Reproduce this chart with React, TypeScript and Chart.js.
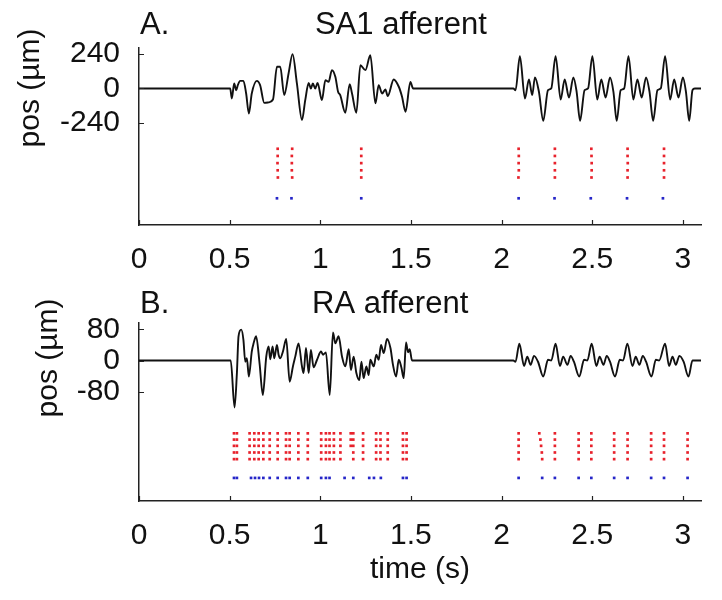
import React, { useEffect, useRef } from 'react';
import { Chart, registerables } from 'chart.js';

Chart.register(...registerables);

const FONT = "'Liberation Sans', Arial, Helvetica, sans-serif";

// ---------- shared axis ticks ----------
const xTicks = [0, 0.5, 1, 1.5, 2, 2.5, 3];
const yTicksA = [-240, 0, 240];
const yTicksB = [-80, 0, 80];

// ---------- Panel A: SA1 afferent, probe position (µm) ----------
const timeA = [
  0, 0.503, 0.512, 0.525, 0.536, 0.545, 0.558, 0.576, 0.591, 0.606, 0.622, 0.65, 0.668, 0.691, 0.715, 0.739,
  0.761, 0.779, 0.801, 0.825, 0.847, 0.871, 0.899, 0.917, 0.936, 0.948, 0.959, 0.972, 0.985, 1.009, 1.028,
  1.046, 1.064, 1.083, 1.098, 1.11, 1.138, 1.162, 1.175, 1.199, 1.221, 1.249, 1.276, 1.304, 1.322, 1.341,
  1.359, 1.372, 1.405, 1.433, 1.451, 1.47, 1.497, 1.512,
  2.065, 2.077, 2.101, 2.129, 2.151, 2.169, 2.184, 2.206, 2.23, 2.256, 2.274,
  2.298, 2.326, 2.348, 2.372, 2.396, 2.414, 2.433, 2.458, 2.477,
  2.501, 2.528, 2.55, 2.574, 2.598, 2.617, 2.635, 2.657, 2.676,
  2.7, 2.727, 2.749, 2.773, 2.797, 2.816, 2.836, 2.86, 2.878,
  2.902, 2.93, 2.952, 2.976, 3.0, 3.017, 3.035, 3.053, 3.066, 3.1,
];
const posA = [
  0, 0, -70, 35, -12, 23, 53, 53, -35, -174, -35, 53, 23, -100, -97, -77,
  151, 151, -46, 104, 239, 35, -220, -81, 39, 0, 35, 0, 39, -81, 58,
  46, 128, 81, -23, -46, -169, 30, -35, -169, 162, 128, 232, -104, 23, -35,
  -7, -53, 63, 12, -58, -162, 46, 0,
  0, -12, 225, -70, 63, -46, 77, -23, -225, -12, 0,
  225, -77, 63, -63, 77, -23, -225, -12, 0,
  225, -77, 63, -63, 77, -23, -225, -12, 0,
  225, -77, 63, -63, 77, -23, -225, -12, 0,
  225, -77, 63, -63, 77, -23, -225, -12, 0, 0,
];

// recorded spikes (5 trials) and model spikes
const spikesA1 = [0.765, 0.845, 1.226, 2.094, 2.294, 2.495, 2.695, 2.896];
const spikesA2 = [0.765, 0.843, 1.226, 2.095, 2.294, 2.496, 2.695, 2.896];
const spikesA3 = [0.764, 0.843, 1.226, 2.094, 2.294, 2.497, 2.696, 2.896];
const spikesA4 = [0.765, 0.843, 1.226, 2.095, 2.294, 2.497, 2.695, 2.896];
const spikesA5 = [0.766, 0.845, 1.226, 2.093, 2.294, 2.496, 2.695, 2.896];
const modelA = [0.761, 0.841, 1.226, 2.094, 2.292, 2.492, 2.692, 2.89];
const trialRowsA = [-420, -470, -520, -570, -620];
const modelRowA = -765;

// ---------- Panel B: RA afferent ----------
const timeB = [
  0, 0.506, 0.527, 0.54, 0.549, 0.564, 0.576, 0.586, 0.595, 0.606, 0.622, 0.632, 0.646, 0.665, 0.683, 0.702,
  0.715, 0.724, 0.737, 0.746, 0.761, 0.77, 0.779, 0.794, 0.812, 0.831, 0.849, 0.862, 0.88, 0.899, 0.908,
  0.921, 0.936, 0.948, 0.963, 0.982, 1.004, 1.015, 1.031, 1.052, 1.07, 1.083, 1.101, 1.12, 1.138, 1.157,
  1.169, 1.184, 1.199, 1.215, 1.227, 1.239, 1.254, 1.267, 1.276, 1.295, 1.309, 1.322, 1.335, 1.35, 1.368,
  1.387, 1.401, 1.418, 1.433, 1.447, 1.46, 1.473, 1.484, 1.493, 1.506,
  2.065, 2.077, 2.098, 2.124, 2.142, 2.16, 2.179, 2.201, 2.23, 2.256, 2.274,
  2.298, 2.322, 2.34, 2.363, 2.381, 2.399, 2.429, 2.455, 2.473,
  2.497, 2.523, 2.541, 2.562, 2.58, 2.598, 2.626, 2.652, 2.67,
  2.694, 2.722, 2.74, 2.76, 2.779, 2.797, 2.827, 2.851, 2.869,
  2.902, 2.924, 2.943, 2.961, 2.981, 3.004, 3.031, 3.053, 3.1,
];
const posB = [
  0, 0, -120, -32, 62, 79, 53, -3, 6, -41, 23, 44, 62, -7, -88, 10,
  36, 3, 36, 6, 40, 15, 6, 23, 55, -54, -15, 10, 44, -15, -32,
  32, -32, 27, -17, 2, 23, 15, 21, -88, 72, 44, 62, 10, -15, 29,
  -24, 10, -32, -50, -3, -45, -15, -37, 2, -15, 15, 2, 40, 19, 55,
  32, -11, -41, 2, -17, -45, 46, 21, 29, 0,
  0, -3, 43, -14, 10, -11, 12, -3, -41, 2, 0,
  43, -14, 10, -11, 12, -3, -41, 2, 0,
  43, -14, 10, -11, 12, -3, -41, 2, 0,
  43, -14, 10, -11, 12, -3, -41, 2, 0,
  43, -14, 10, -11, 12, -3, -41, 0, 0,
];

const spikesB1 = [0.524, 0.54, 0.61, 0.636, 0.66, 0.686, 0.721, 0.765, 0.811, 0.831, 0.879, 0.931, 1.005, 1.031, 1.051, 1.075, 1.111, 1.168, 1.182, 1.236, 1.308, 1.332, 1.372, 1.456, 1.476, 2.094, 2.208, 2.294, 2.425, 2.495, 2.621, 2.695, 2.825, 2.896, 3.026];
const spikesB2 = [0.524, 0.54, 0.61, 0.636, 0.66, 0.686, 0.721, 0.765, 0.811, 0.831, 0.879, 0.931, 1.005, 1.031, 1.051, 1.075, 1.111, 1.168, 1.182, 1.236, 1.308, 1.332, 1.372, 1.456, 1.476, 2.094, 2.214, 2.294, 2.425, 2.495, 2.621, 2.695, 2.825, 2.896, 3.026];
const spikesB3 = [0.524, 0.54, 0.61, 0.636, 0.66, 0.686, 0.721, 0.765, 0.811, 0.831, 0.879, 0.931, 1.005, 1.031, 1.051, 1.075, 1.111, 1.168, 1.182, 1.236, 1.308, 1.332, 1.372, 1.456, 1.476, 2.094, 2.218, 2.294, 2.425, 2.495, 2.621, 2.695, 2.825, 2.896, 3.026];
const spikesB4 = [0.524, 0.54, 0.61, 0.636, 0.66, 0.686, 0.721, 0.765, 0.811, 0.831, 0.879, 0.931, 1.005, 1.031, 1.051, 1.075, 1.111, 1.182, 1.236, 1.308, 1.332, 1.372, 1.456, 1.476, 2.094, 2.222, 2.294, 2.425, 2.495, 2.621, 2.695, 2.825, 2.896, 3.026];
const spikesB5 = [0.524, 0.54, 0.61, 0.636, 0.66, 0.686, 0.721, 0.765, 0.811, 0.831, 0.879, 0.931, 1.005, 1.031, 1.051, 1.075, 1.111, 1.182, 1.236, 1.308, 1.332, 1.372, 1.456, 1.476, 2.094, 2.224, 2.294, 2.425, 2.495, 2.621, 2.695, 2.825, 2.896, 3.026];
const modelB = [0.524, 0.54, 0.618, 0.64, 0.662, 0.686, 0.721, 0.765, 0.811, 0.831, 0.879, 0.931, 1.005, 1.031, 1.051, 1.134, 1.182, 1.27, 1.296, 1.334, 1.456, 1.476, 2.094, 2.224, 2.294, 2.425, 2.495, 2.621, 2.695, 2.825, 2.896, 3.026];
const trialRowsB = [-186, -202, -218, -235, -252];
const modelRowB = -300;

type PanelProps = {
  times: number[];
  pos: number[];
  trials: number[][];
  trialRows: number[];
  model: number[];
  modelRow: number;
  yMin: number;
  yMax: number;
  yTicks: number[];
  width: number;
  height: number;
  padTop: number;
  xAxisH: number;
  letter: string;
  title: string;
  titleX: number;
  titleBase: number;
  yLabelC: [number, number];
  xLabel?: { text: string; x: number; y: number };
  top: number;
};

function Panel(p: PanelProps) {
  const ref = useRef<HTMLCanvasElement | null>(null);
  useEffect(() => {
    if (!ref.current) return;
    const decor = {
      id: 'decor',
      afterDraw(chart: any) {
        const ctx = chart.ctx as CanvasRenderingContext2D;
        const { left, bottom } = chart.chartArea;
        const xs = chart.scales.x;
        const ys = chart.scales.y;
        ctx.save();
        ctx.strokeStyle = '#222';
        ctx.lineWidth = 1.2;
        ctx.beginPath();
        xs.ticks.forEach((t: any) => {
          const px = Math.round(xs.getPixelForValue(t.value)) + 0.5;
          ctx.moveTo(px, bottom);
          ctx.lineTo(px, bottom - 5);
        });
        ys.ticks.forEach((t: any) => {
          const py = Math.round(ys.getPixelForValue(t.value)) + 0.5;
          ctx.moveTo(left, py);
          ctx.lineTo(left + 5, py);
        });
        ctx.stroke();
        ctx.fillStyle = '#111';
        ctx.font = `31px ${FONT}`;
        ctx.textAlign = 'left';
        ctx.textBaseline = 'alphabetic';
        ctx.fillText(p.letter, 140, p.titleBase);
        ctx.fillText(p.title, p.titleX, p.titleBase);
        ctx.font = `30px ${FONT}`;
        ctx.save();
        ctx.translate(p.yLabelC[0], p.yLabelC[1]);
        ctx.rotate(-Math.PI / 2);
        ctx.textAlign = 'center';
        ctx.textBaseline = 'middle';
        ctx.fillText('pos (µm)', 0, 0);
        ctx.restore();
        if (p.xLabel) {
          ctx.textAlign = 'center';
          ctx.textBaseline = 'middle';
          ctx.fillText(p.xLabel.text, p.xLabel.x, p.xLabel.y);
        }
        ctx.restore();
      },
    };
    const lineData = p.times.map((t, i) => ({ x: t, y: p.pos[i] }));
    const datasets: any[] = [
      {
        data: lineData,
        borderColor: '#111',
        borderWidth: 1.9,
        pointRadius: 0,
        cubicInterpolationMode: 'monotone',
        fill: false,
      },
    ];
    p.trials.forEach((tr, k) => {
      datasets.push({
        data: tr.map((t) => ({ x: t, y: p.trialRows[k] })),
        showLine: false,
        pointStyle: 'rect',
        pointRadius: 1.9,
        backgroundColor: '#e8222c',
        borderWidth: 0,
      });
    });
    datasets.push({
      data: p.model.map((t) => ({ x: t, y: p.modelRow })),
      showLine: false,
      pointStyle: 'rect',
      pointRadius: 1.9,
      backgroundColor: '#2626c8',
      borderWidth: 0,
    });
    const tickFont = { family: FONT, size: 30 };
    const chart = new Chart(ref.current, {
      type: 'line',
      data: { datasets },
      options: {
        animation: false,
        responsive: false,
        maintainAspectRatio: false,
        layout: { padding: { top: p.padTop, right: 21, left: 0, bottom: 0 } },
        plugins: { legend: { display: false }, tooltip: { enabled: false }, title: { display: false } },
        scales: {
          x: {
            type: 'linear',
            min: 0,
            max: 3.1,
            afterBuildTicks: (s: any) => {
              s.ticks = xTicks.map((v) => ({ value: v }));
            },
            afterFit: (s: any) => {
              s.height = p.xAxisH;
            },
            grid: { display: false },
            border: { display: true, color: '#222', width: 1.5 },
            ticks: {
              autoSkip: false,
              maxRotation: 0,
              padding: 9,
              color: '#111',
              font: tickFont,
              callback: (v: any) => String(v),
            },
          },
          y: {
            type: 'linear',
            min: p.yMin,
            max: p.yMax,
            afterBuildTicks: (s: any) => {
              s.ticks = p.yTicks.map((v) => ({ value: v }));
            },
            afterFit: (s: any) => {
              s.width = 139;
            },
            grid: { display: false },
            border: { display: true, color: '#222', width: 1.5 },
            ticks: {
              padding: 11,
              color: '#111',
              font: tickFont,
              callback: (v: any) => String(v),
            },
          },
        },
      } as any,
      plugins: [decor],
    });
    return () => chart.destroy();
  }, []);
  return (
    <canvas
      ref={ref}
      width={p.width}
      height={p.height}
      style={{ position: 'absolute', left: 0, top: p.top, width: p.width, height: p.height, display: 'block' }}
    />
  );
}

export default function App() {
  return (
    <div style={{ position: 'absolute', left: 0, top: 0, width: 722, height: 600, background: '#fff' }}>
      <Panel
        times={timeA}
        pos={posA}
        trials={[spikesA1, spikesA2, spikesA3, spikesA4, spikesA5]}
        trialRows={trialRowsA}
        model={modelA}
        modelRow={modelRowA}
        yMin={-951}
        yMax={282}
        yTicks={yTicksA}
        width={722}
        height={290}
        padTop={48}
        xAxisH={65}
        letter="A."
        title="SA1 afferent"
        titleX={315}
        titleBase={34}
        yLabelC={[31, 88]}
        top={0}
      />
      <Panel
        times={timeB}
        pos={posB}
        trials={[spikesB1, spikesB2, spikesB3, spikesB4, spikesB5]}
        trialRows={trialRowsB}
        model={modelB}
        modelRow={modelRowB}
        yMin={-359}
        yMax={96}
        yTicks={yTicksB}
        width={722}
        height={310}
        padTop={33}
        xAxisH={99}
        letter="B."
        title="RA afferent"
        titleX={312}
        titleBase={23}
        yLabelC={[49, 68]}
        xLabel={{ text: 'time (s)', x: 420, y: 280 }}
        top={290}
      />
    </div>
  );
}
